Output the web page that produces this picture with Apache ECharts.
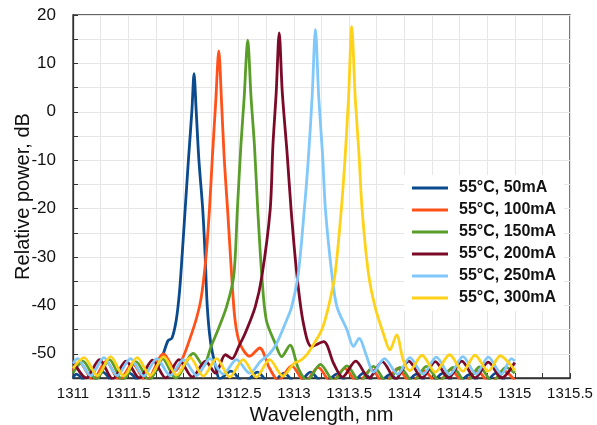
<!DOCTYPE html>
<html lang="en">

<head>
  <meta charset="UTF-8" />
  <title>Spectra 55C</title>
  <style>
    html, body { margin: 0; padding: 0; background: #fff; }
  </style>
</head>

<body>
  <div id="main" style="width: 597px; height: 425px;"></div>
  <script src="https://cdn.jsdelivr.net/npm/echarts@6/dist/echarts.min.js"></script>
  <script type="text/javascript">
    // legend names
    const names = ['55°C, 50mA', '55°C, 100mA', '55°C, 150mA', '55°C, 200mA', '55°C, 250mA', '55°C, 300mA']
    const colors = ['#0b4a8c', '#ff5119', '#5a9e2a', '#7a0a28', '#80c8fa', '#ffd21a']

    // [wavelength nm, power dB]
    const s50 = [
      [1311.0, -55], [1311.03, -54.2], [1311.15, -56.5], [1311.27, -53.8], [1311.39, -56.5], [1311.51, -54], [1311.63, -56.3],
      [1311.75, -53.6], [1311.81, -50.5], [1311.86, -47.3], [1311.895, -46.8], [1311.935, -43], [1311.965, -37],
      [1311.99, -29], [1312.015, -20.3], [1312.045, -10], [1312.077, 0.4], [1312.096, 7.9], [1312.115, 0.4],
      [1312.14, -10], [1312.175, -20.3], [1312.197, -30], [1312.215, -40], [1312.245, -47.5], [1312.29, -52.5],
      [1312.33, -55.2], [1312.43, -53.6], [1312.55, -56], [1312.67, -53.8],
      [1312.79, -56.4], [1312.91, -54], [1313.03, -56.4], [1313.15, -53.8], [1313.27, -56.2], [1313.39, -54.2],
      [1313.51, -56.5], [1313.63, -54], [1313.75, -56.3], [1313.87, -54.3], [1313.99, -56.5], [1314.11, -54.2],
      [1314.23, -56.4], [1314.35, -54], [1314.47, -56.3], [1314.59, -54.3], [1314.71, -56.5], [1314.83, -54],
      [1314.95, -56.2], [1315.0, -55.5]
    ]
    const s100 = [
      [1311.0, -53.5], [1311.06, -51.8], [1311.18, -55.5], [1311.30, -51.5], [1311.42, -55.5], [1311.54, -52],
      [1311.66, -55.8], [1311.82, -50], [1311.93, -53.5], [1312.0, -50.5], [1312.06, -46.8], [1312.12, -42.5],
      [1312.16, -38.5], [1312.2, -31], [1312.235, -20.3], [1312.262, -9.3], [1312.292, 2], [1312.32, 12.6],
      [1312.345, 2], [1312.37, -10], [1312.40, -20.3], [1312.437, -34], [1312.467, -43], [1312.51, -47.8],
      [1312.60, -50.5], [1312.69, -48.8], [1312.78, -53],
      [1312.86, -55.5], [1312.98, -52.5], [1313.10, -55.8], [1313.22, -52.8], [1313.34, -56], [1313.46, -53],
      [1313.58, -56], [1313.70, -53.2], [1313.82, -56.2], [1313.94, -53], [1314.06, -56], [1314.18, -53.5],
      [1314.30, -56.2], [1314.42, -53.2], [1314.54, -56], [1314.66, -53.5], [1314.78, -56.2], [1314.90, -53.5],
      [1315.0, -55.5]
    ]
    const s150 = [
      [1311.0, -54], [1311.09, -51.5], [1311.21, -55.3], [1311.33, -51.2], [1311.45, -55.5], [1311.57, -51.6],
      [1311.69, -55.5], [1311.81, -51], [1311.93, -55], [1312.09, -49.9], [1312.18, -52.5], [1312.25, -48.5],
      [1312.31, -45.2], [1312.39, -40.3], [1312.455, -34], [1312.488, -20.3], [1312.52, -7], [1312.55, 3],
      [1312.582, 14.8], [1312.612, 3], [1312.643, -7], [1312.673, -20.3], [1312.71, -34], [1312.75, -43],
      [1312.83, -47.8], [1312.89, -50.6], [1312.965, -48.2], [1313.04, -53], [1313.12, -55.5], [1313.24, -52.2],
      [1313.36, -55.5], [1313.48, -52.5], [1313.60, -55.8], [1313.72, -52.6], [1313.84, -55.8], [1313.96, -52.8],
      [1314.08, -55.8], [1314.20, -52.6], [1314.32, -55.6], [1314.44, -52.8], [1314.56, -56], [1314.68, -52.7],
      [1314.80, -55.8], [1314.92, -52.8], [1315.0, -54]
    ]
    const s200 = [
      [1311.0, -51.5], [1311.12, -55], [1311.24, -51.2], [1311.36, -55.2], [1311.48, -51.5], [1311.60, -55],
      [1311.72, -51.3], [1311.84, -55], [1311.96, -51.2], [1312.08, -54.8], [1312.20, -51.5], [1312.29, -54],
      [1312.38, -50.2], [1312.44, -51], [1312.50, -48.5], [1312.56, -45.7], [1312.65, -40.3], [1312.71, -34],
      [1312.785, -20.3], [1312.81, -7], [1312.84, 4], [1312.867, 16.3], [1312.895, 4], [1312.94, -9],
      [1312.975, -20.3], [1313.026, -33.4], [1313.086, -43.7], [1313.16, -48.5], [1313.27, -47.5], [1313.36, -52],
      [1313.44, -54.8], [1313.56, -51.5], [1313.68, -55], [1313.80, -51.6], [1313.92, -55.2], [1314.04, -51.5],
      [1314.16, -55], [1314.28, -51.6], [1314.40, -55], [1314.52, -51.5], [1314.64, -55], [1314.76, -51.7],
      [1314.88, -55], [1315.0, -51.8]
    ]
    const s250 = [
      [1311.0, -52], [1311.04, -51], [1311.16, -54.5], [1311.28, -50.8], [1311.40, -54.5], [1311.52, -51],
      [1311.64, -54.6], [1311.76, -51], [1311.88, -54.5], [1312.00, -51.2], [1312.12, -54.5], [1312.24, -51],
      [1312.36, -54.2], [1312.48, -51.2], [1312.60, -54], [1312.70, -51.5], [1312.78, -50], [1312.845, -47.8],
      [1312.935, -43], [1312.98, -40.3], [1313.04, -33.4], [1313.095, -20], [1313.13, -10], [1313.165, 3],
      [1313.195, 17], [1313.225, 3], [1313.26, -9], [1313.285, -20], [1313.343, -33.4], [1313.39, -40.3],
      [1313.48, -45], [1313.54, -48.5], [1313.59, -46.8], [1313.66, -50.6], [1313.72, -53.8], [1313.82, -51],
      [1313.94, -54.2], [1314.05, -50.8], [1314.17, -54.2], [1314.29, -50.7], [1314.41, -54.3], [1314.53, -50.6],
      [1314.65, -54.2], [1314.76, -50.7], [1314.88, -54.2], [1314.97, -51], [1315.0, -51.5]
    ]
    const s300 = [
      [1311.0, -53], [1311.10, -50.8], [1311.22, -54.5], [1311.34, -50.6], [1311.46, -54.6], [1311.58, -50.8],
      [1311.70, -54.5], [1311.82, -50.6], [1311.94, -54.4], [1312.06, -50.8], [1312.18, -54.6], [1312.30, -51],
      [1312.42, -54.8], [1312.54, -51.2], [1312.66, -54.8], [1312.78, -51.2], [1312.90, -54.6], [1313.00, -52],
      [1313.05, -51.5], [1313.10, -50.6], [1313.147, -49.2], [1313.253, -45], [1313.313, -40.3], [1313.373, -33.4],
      [1313.43, -20], [1313.462, -10], [1313.495, 3], [1313.524, 17.6], [1313.555, 3], [1313.59, -9],
      [1313.617, -20], [1313.675, -33.4], [1313.735, -40.3], [1313.81, -45.8], [1313.87, -49.2], [1313.93, -46.1],
      [1313.99, -51.3], [1314.05, -53.5], [1314.16, -50.3], [1314.28, -53.8], [1314.41, -50.2], [1314.53, -53.6],
      [1314.64, -50.3], [1314.76, -53.6], [1314.87, -50.4], [1314.97, -52.5], [1315.0, -53.5]
    ]
    const allData = [s50, s100, s150, s200, s250, s300]

    const font = "'Liberation Sans', Arial, sans-serif"
    var myChart = echarts.init(document.getElementById('main'))

    var option = {
      animation: false,
      color: colors,
      grid: {
        left: 73, right: 27, top: 15, bottom: 47,
        outerBoundsMode: 'none',
        show: true, borderColor: '#333', borderWidth: 1.3
      },
      legend: {
        orient: 'vertical',
        left: 404, top: 175,
        icon: 'rect', itemWidth: 36, itemHeight: 3, itemGap: 6,
        backgroundColor: '#fff',
        padding: [5, 8, 5, 8],
        textStyle: { fontSize: 16, fontWeight: 'bold', color: '#111', fontFamily: font, padding: [0, 0, 0, 6] },
        data: names
      },
      xAxis: {
        type: 'value', min: 1311, max: 1315.5, interval: 0.25,
        name: 'Wavelength, nm', nameLocation: 'middle', nameGap: 22,
        nameTextStyle: { fontSize: 20, color: '#111', fontFamily: font },
        axisLine: { onZero: false, lineStyle: { color: '#333', width: 1.3 } },
        axisTick: { inside: true, length: 5, lineStyle: { color: '#333' } },
        axisLabel: {
          fontSize: 15, color: '#111', fontFamily: font, margin: 8,
          formatter: v => Math.abs(v * 2 - Math.round(v * 2)) < 1e-6 ? String(v) : ''
        },
        splitLine: { lineStyle: { color: '#e6e6e6' } }
      },
      yAxis: {
        type: 'value', min: -55, max: 20, interval: 5,
        name: 'Relative power, dB', nameLocation: 'middle', nameGap: 40,
        nameMoveOverlap: false,
        nameTextStyle: { fontSize: 20, color: '#111', fontFamily: font },
        axisLine: { onZero: false, lineStyle: { color: '#333', width: 1.3 } },
        axisTick: { inside: true, length: 5, lineStyle: { color: '#333' } },
        axisLabel: {
          fontSize: 17, color: '#111', fontFamily: font, margin: 17,
          formatter: v => v % 10 === 0 ? String(v) : ''
        },
        splitLine: { lineStyle: { color: '#e6e6e6' } }
      },
      series: allData.map((d, i) => ({
        name: names[i],
        type: 'line',
        data: d,
        symbol: 'none',
        smooth: 0.3,
        clip: true,
        lineStyle: { width: 2.8 }
      }))
    }
    myChart.setOption(option)
  </script>
</body>

</html>
